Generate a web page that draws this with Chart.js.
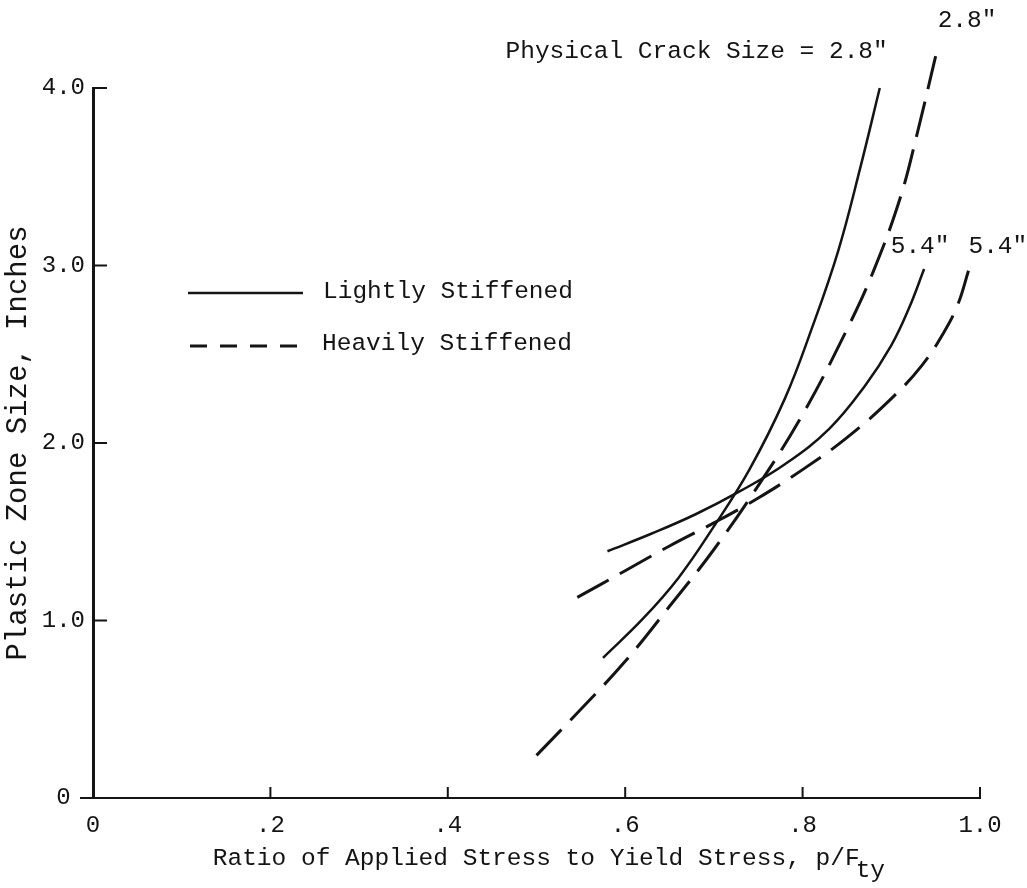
<!DOCTYPE html>
<html>
<head>
<meta charset="utf-8">
<title>Plastic Zone Size</title>
<script src="https://cdn.jsdelivr.net/npm/chart.js@4.4.1/dist/chart.umd.min.js"></script>
<style>
  body { margin: 0; background: #fff; }
  canvas { display: block; }
</style>
</head>
<body>
<canvas id="myChart" width="1027" height="888"></canvas>
<script>
"use strict";

// p/Fty against plastic zone size, two crack sizes, two stiffening levels
const lightly28X = [0.575, 0.62, 0.66, 0.70, 0.74, 0.78, 0.81, 0.84, 0.865, 0.887];
const lightly28Y = [0.79, 1.01, 1.24, 1.53, 1.85, 2.25, 2.64, 3.08, 3.55, 4.0];

const heavily28X = [0.50, 0.55, 0.60, 0.65, 0.70, 0.75, 0.80, 0.85, 0.88, 0.91, 0.93, 0.95];
const heavily28Y = [0.24, 0.50, 0.77, 1.08, 1.40, 1.76, 2.16, 2.64, 2.97, 3.38, 3.76, 4.18];

const lightly54X = [0.58, 0.63, 0.68, 0.73, 0.78, 0.83, 0.87, 0.90, 0.92, 0.937];
const lightly54Y = [1.39, 1.49, 1.60, 1.73, 1.88, 2.08, 2.32, 2.55, 2.76, 2.98];

const heavily54X = [0.546, 0.60, 0.65, 0.70, 0.75, 0.80, 0.85, 0.90, 0.935, 0.96, 0.975, 0.987];
const heavily54Y = [1.13, 1.28, 1.42, 1.55, 1.69, 1.85, 2.03, 2.25, 2.44, 2.63, 2.78, 2.97];

const xTicks = [0, 0.2, 0.4, 0.6, 0.8, 1.0];
const xTickLabels = ["0", ".2", ".4", ".6", ".8", "1.0"];
const yTicks = [0, 1, 2, 3, 4];
const yTickLabels = ["0 ", "1.0", "2.0", "3.0", "4.0"];

const ink = "#141414";
const typeFont = '"Liberation Mono", "DejaVu Sans Mono", monospace';

function toPoints(xs, ys) {
  return xs.map((x, i) => ({ x: x, y: ys[i] }));
}

function curve(label, xs, ys, dashed) {
  return {
    label: label,
    data: toPoints(xs, ys),
    showLine: true,
    borderColor: ink,
    borderWidth: dashed ? 3 : 2.5,
    borderDash: dashed ? [36, 13] : [],
    pointRadius: 0,
    tension: 0.4,
    clip: false,
    fill: false,
  };
}

function setText(ctx, size, align) {
  ctx.font = size + "px " + typeFont;
  ctx.textAlign = align;
  ctx.textBaseline = "alphabetic";
  ctx.fillStyle = ink;
}

// tick marks point into the plot, so they are drawn by hand
const axisTicks = {
  id: "axisTicks",
  afterDraw(chart) {
    const ctx = chart.ctx;
    const xs = chart.scales.x;
    const ys = chart.scales.y;
    ctx.save();
    ctx.strokeStyle = ink;
    ctx.lineWidth = 2;
    ctx.beginPath();
    yTicks.forEach((v) => {
      let py = ys.getPixelForValue(v);
      if (v === 0) {
        ctx.moveTo(xs.left - 13, py);
        ctx.lineTo(xs.left, py);
      } else {
        ctx.moveTo(xs.left, py);
        ctx.lineTo(xs.left + 14, py);
      }
    });
    xTicks.forEach((v) => {
      if (v === 0) return;
      let px = xs.getPixelForValue(v);
      ctx.moveTo(px, ys.bottom);
      ctx.lineTo(px, ys.bottom - 11);
    });
    ctx.stroke();
    ctx.restore();
  },
};

// curve labels, key and the x title with its subscript
const notes = {
  id: "notes",
  afterDraw(chart) {
    const ctx = chart.ctx;
    const xs = chart.scales.x;
    const ys = chart.scales.y;
    const px = (v) => xs.getPixelForValue(v);
    const py = (v) => ys.getPixelForValue(v);
    const last = (arr) => arr[arr.length - 1];

    ctx.save();
    setText(ctx, 24.5, "right");
    ctx.fillText("Physical Crack Size = 2.8\"", px(last(lightly28X)) + 8, py(last(lightly28Y)) - 30);

    setText(ctx, 24.5, "left");
    ctx.fillText("2.8\"", px(last(heavily28X)) + 2, py(last(heavily28Y)) - 29);

    setText(ctx, 24.5, "center");
    ctx.fillText("5.4\"", px(last(lightly54X)) - 4, py(last(lightly54Y)) - 16);
    setText(ctx, 24.5, "left");
    ctx.fillText("5.4\"", px(last(heavily54X)), py(last(heavily54Y)) - 18);

    // key
    ctx.strokeStyle = ink;
    ctx.lineWidth = 2.5;
    ctx.beginPath();
    ctx.moveTo(188, 293);
    ctx.lineTo(303, 293);
    ctx.stroke();
    ctx.lineWidth = 3;
    ctx.setLineDash([17, 13]);
    ctx.beginPath();
    ctx.moveTo(190, 346);
    ctx.lineTo(310, 346);
    ctx.stroke();
    ctx.setLineDash([]);
    setText(ctx, 24.5, "left");
    ctx.fillText("Lightly Stiffened", 323, 298);
    ctx.fillText("Heavily Stiffened", 322, 350);

    // x axis title
    const title = "Ratio of Applied Stress to Yield Stress, p/F";
    const tx = px(0.135);
    ctx.fillText(title, tx, 865);
    const w = ctx.measureText(title).width;
    ctx.fillText("ty", tx + w - 4, 877);
    ctx.restore();
  },
};

const config = {
  type: "scatter",
  data: {
    datasets: [
      curve("Lightly Stiffened 2.8\"", lightly28X, lightly28Y, false),
      curve("Heavily Stiffened 2.8\"", heavily28X, heavily28Y, true),
      curve("Lightly Stiffened 5.4\"", lightly54X, lightly54Y, false),
      curve("Heavily Stiffened 5.4\"", heavily54X, heavily54Y, true),
    ],
  },
  options: {
    responsive: false,
    animation: false,
    layout: { padding: { top: 88, right: 47, left: 0, bottom: 0 } },
    plugins: {
      legend: { display: false },
      tooltip: { enabled: false },
    },
    scales: {
      x: {
        type: "linear",
        min: 0,
        max: 1,
        grid: { display: false, drawTicks: false },
        border: { color: ink, width: 2 },
        afterBuildTicks: (scale) => {
          scale.ticks = xTicks.map((v) => ({ value: v }));
        },
        afterFit: (scale) => {
          scale.height = 90;
        },
        ticks: {
          autoSkip: false,
          maxRotation: 0,
          padding: 13,
          color: ink,
          font: { family: typeFont, size: 24 },
          callback: (value, index) => xTickLabels[index],
        },
      },
      y: {
        type: "linear",
        min: 0,
        max: 4,
        grid: { display: false, drawTicks: false },
        border: { color: ink, width: 3 },
        afterBuildTicks: (scale) => {
          scale.ticks = yTicks.map((v) => ({ value: v }));
        },
        afterFit: (scale) => {
          scale.width = 93;
        },
        ticks: {
          autoSkip: false,
          padding: 8,
          color: ink,
          font: { family: typeFont, size: 24 },
          callback: (value, index) => yTickLabels[index],
        },
        title: {
          display: true,
          text: "Plastic Zone Size, Inches",
          color: ink,
          font: { family: typeFont, size: 29 },
          padding: { top: 1, bottom: 0 },
        },
      },
    },
  },
  plugins: [axisTicks, notes],
};

const canvasChart = document.getElementById("myChart");
new Chart(canvasChart, config);
</script>
</body>
</html>
